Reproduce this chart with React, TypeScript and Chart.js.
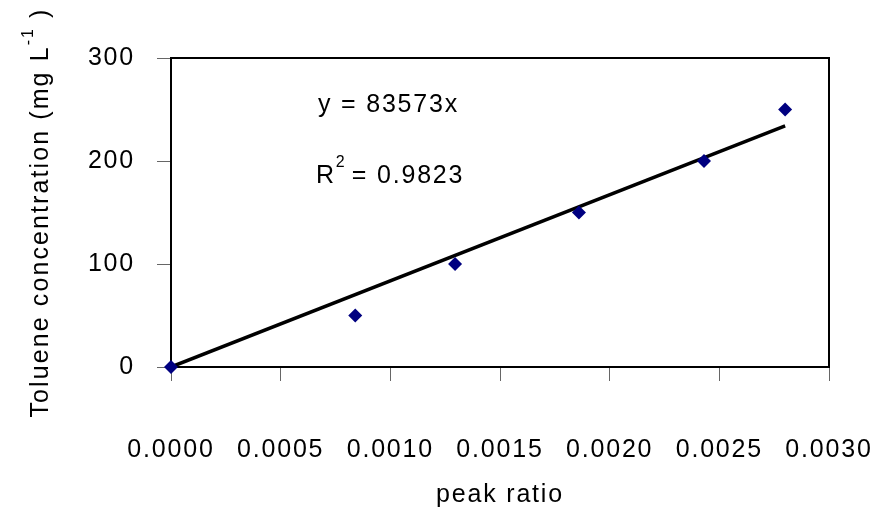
import React, { useEffect, useRef } from "react";
import { Chart, registerables } from "chart.js";

Chart.register(...registerables);

const peakRatio = [0, 0.00084, 0.001295, 0.00186, 0.00243, 0.0028];
const concentration = [0, 50, 100, 150, 200, 250];
const slope = 83573;
const xTicks = [0, 0.0005, 0.001, 0.0015, 0.002, 0.0025, 0.003];
const yTicks = [0, 100, 200, 300];
const equationText = "y = 83573x";
const r2Text = "= 0.9823";
const xTitle = "peak ratio";
const yTitleMain = "Toluene concentration (mg L";
const yTitleSup = "-1";
const yTitleTail = " )";

const FONT = "Liberation Sans, Arial, sans-serif";
const SPACING = "1.8px";

export default function App() {
  const ref = useRef<HTMLCanvasElement | null>(null);
  useEffect(() => {
    const canvas = ref.current;
    if (!canvas) return;
    const xMax = Math.max(...peakRatio);
    const textPlugin = {
      id: "texts",
      beforeLayout(chart: any) {
        chart.ctx.letterSpacing = SPACING;
      },
      beforeDraw(chart: any) {
        chart.ctx.letterSpacing = SPACING;
      },
      beforeDatasetsDraw(chart: any) {
        const { ctx, chartArea } = chart;
        ctx.save();
        ctx.strokeStyle = "#000";
        ctx.lineWidth = 2;
        ctx.strokeRect(chartArea.left, chartArea.top, chartArea.right - chartArea.left, chartArea.bottom - chartArea.top);
        ctx.restore();
      },
      afterDraw(chart: any) {
        const { ctx, chartArea } = chart;
        ctx.save();
        ctx.letterSpacing = SPACING;
        ctx.fillStyle = "#000";
        ctx.font = `25px ${FONT}`;
        ctx.textBaseline = "middle";
        ctx.textAlign = "left";
        ctx.fillText(equationText, 318, 105);
        ctx.fillText("R", 316, 176);
        const rw = ctx.measureText("R").width;
        ctx.font = `16px ${FONT}`;
        ctx.fillText("2", 316 + rw, 163);
        ctx.font = `25px ${FONT}`;
        ctx.fillText(r2Text, 316 + rw + 16, 176);
        // x title
        ctx.textAlign = "center";
        ctx.fillText(xTitle, (chartArea.left + chartArea.right) / 2, 495);
        // y title
        ctx.translate(48, (chartArea.top + chartArea.bottom) / 2);
        ctx.rotate(-Math.PI / 2);
        ctx.letterSpacing = "2.1px";
        ctx.textAlign = "left";
        ctx.textBaseline = "alphabetic";
        ctx.font = `25px ${FONT}`;
        const w1 = ctx.measureText(yTitleMain).width;
        const w3 = ctx.measureText(yTitleTail).width;
        ctx.font = `16px ${FONT}`;
        const w2 = ctx.measureText(yTitleSup).width;
        const total = w1 + w2 + w3;
        let x0 = -total / 2;
        ctx.font = `25px ${FONT}`;
        ctx.fillText(yTitleMain, x0, 0);
        x0 += w1;
        ctx.font = `16px ${FONT}`;
        ctx.fillText(yTitleSup, x0, -15);
        x0 += w2;
        ctx.font = `25px ${FONT}`;
        ctx.fillText(yTitleTail, x0, 0);
        ctx.restore();
      },
    };
    const chart = new Chart(canvas, {
      type: "scatter",
      data: {
        datasets: [
          {
            type: "line",
            label: "trend",
            data: [
              { x: 0, y: 0 },
              { x: xMax, y: slope * xMax },
            ],
            borderColor: "#000",
            borderWidth: 3.5,
            pointRadius: 0,
            fill: false,
            order: 2,
          } as any,
          {
            label: "data",
            data: peakRatio.map((x, i) => ({ x, y: concentration[i] })),
            pointStyle: "rectRot",
            pointRadius: 7,
            pointBackgroundColor: "#000080",
            pointBorderColor: "#000080",
            pointBorderWidth: 0,
            clip: false,
            order: 1,
          } as any,
        ],
      },
      options: {
        responsive: false,
        animation: false,
        devicePixelRatio: 1,
        layout: { padding: { top: 58, right: 50, left: 0, bottom: 0 } },
        plugins: { legend: { display: false }, tooltip: { enabled: false } },
        scales: {
          x: {
            type: "linear",
            min: 0,
            max: 0.003,
            afterBuildTicks: (s: any) => {
              s.ticks = xTicks.map((v) => ({ value: v }));
            },
            afterFit: (s: any) => {
              s.height = 149;
              s.paddingLeft = 0;
              s.paddingRight = 0;
            },
            ticks: {
              callback: (v: any) => Number(v).toFixed(4),
              font: { family: FONT, size: 25 },
              color: "#000",
              padding: 54,
              maxRotation: 0,
              autoSkip: false,
            },
            grid: { drawOnChartArea: false, drawTicks: true, tickLength: 14, color: "#666", lineWidth: 1 },
            border: { display: true, color: "#000", width: 2 },
          },
          y: {
            type: "linear",
            min: 0,
            max: 300,
            afterBuildTicks: (s: any) => {
              s.ticks = yTicks.map((v) => ({ value: v }));
            },
            afterFit: (s: any) => {
              s.width = 171;
              s.paddingTop = 0;
              s.paddingBottom = 0;
            },
            ticks: {
              font: { family: FONT, size: 25 },
              color: "#000",
              padding: 22,
            },
            grid: { drawOnChartArea: false, drawTicks: true, tickLength: 14, color: "#666", lineWidth: 1 },
            border: { display: true, color: "#000", width: 2 },
          },
        },
      },
      plugins: [textPlugin],
    });
    return () => chart.destroy();
  }, []);
  return (
    <div style={{ position: "fixed", left: 0, top: 0, width: 879, height: 516, background: "#fff" }}>
      <canvas ref={ref} width={879} height={516} />
    </div>
  );
}
